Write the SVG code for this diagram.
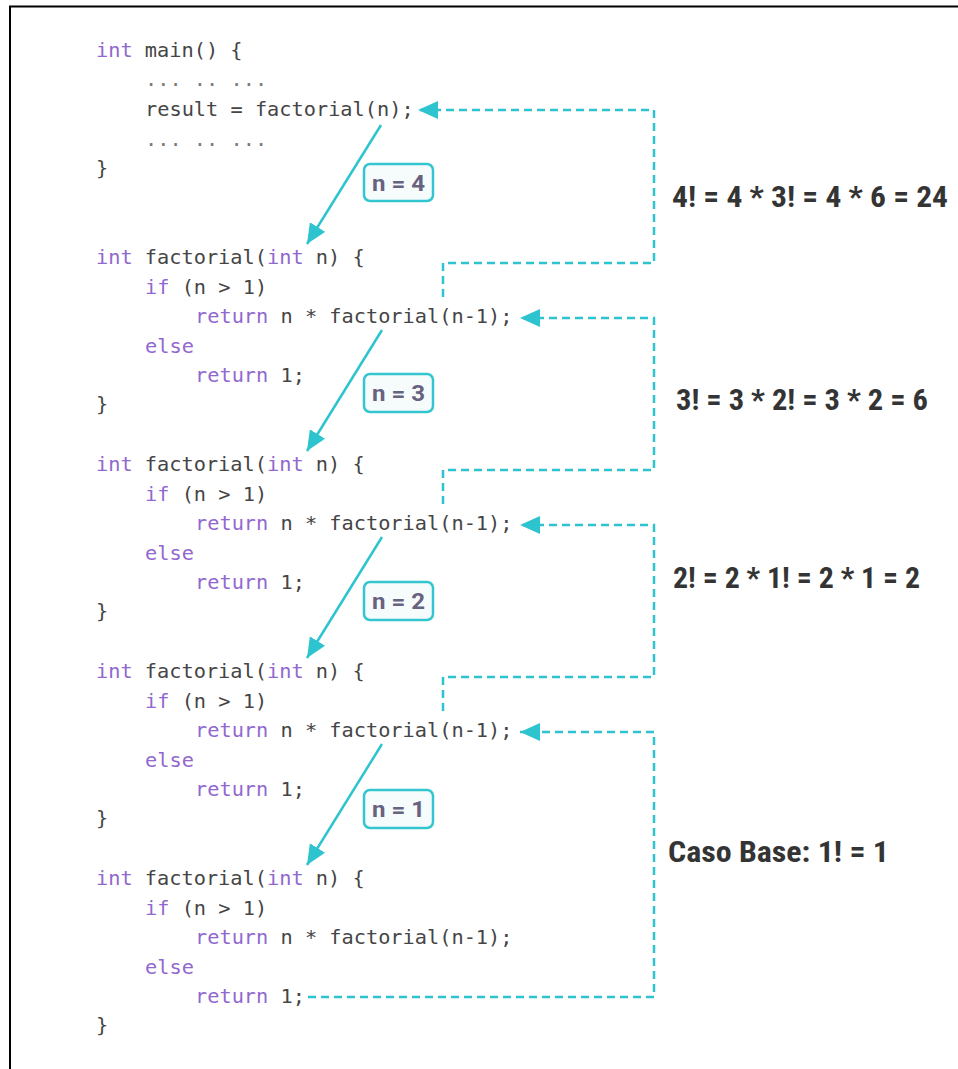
<svg xmlns="http://www.w3.org/2000/svg" width="958" height="1069" viewBox="0 0 958 1069">
  <style>
    .code { font-family: "DejaVu Sans Mono", "Liberation Mono", monospace; font-size: 20.3px; fill: #454545; }
    .kw { fill: #9168cf; }
    .dots { fill: #7a7a7a; }
    .box { fill: #f6fbfc; stroke: #33c6d0; stroke-width: 2.5; }
    .boxt { font-family: "Roboto", "Liberation Sans", sans-serif; font-size: 22px; font-weight: 700; fill: #67627f; }
    .lbl { font-family: "Roboto Condensed", "Liberation Sans Narrow", "Roboto", "Liberation Sans", sans-serif; font-size: 30px; font-weight: 700; fill: #343434; }
    .call { stroke: #2ec4cf; stroke-width: 2.5; fill: none; }
    .ret { stroke: #2ec4cf; stroke-width: 2.5; fill: none; stroke-dasharray: 8 5; }
  </style>
  <defs>
    <marker id="ah" markerUnits="userSpaceOnUse" markerWidth="22" markerHeight="20" refX="20" refY="9" orient="auto">
      <path d="M0,0 L20,9 L0,18 Z" fill="#2ec4cf"/>
    </marker>
  </defs>
  <rect x="0" y="0" width="958" height="1069" fill="#ffffff"/>
  <g id="frame">
    <line x1="9" y1="6.5" x2="958" y2="6.5" stroke="#000" stroke-width="2"/>
    <line x1="10" y1="6" x2="10" y2="1069" stroke="#000" stroke-width="2"/>
  </g>

  <g id="main" class="code">
    <text x="96" y="57"><tspan class="kw">int</tspan> main() {</text>
    <text x="145" y="86" class="dots">... .. ...</text>
    <text x="145" y="116">result = factorial(n);</text>
    <text x="145" y="146" class="dots">... .. ...</text>
    <text x="96" y="175">}</text>
  </g>

  <g id="factorial-1" class="code">
    <text x="96" y="264"><tspan class="kw">int</tspan> factorial(<tspan class="kw">int</tspan> n) {</text>
    <text x="145" y="294"><tspan class="kw">if</tspan> (n &gt; 1)</text>
    <text x="195" y="323"><tspan class="kw">return</tspan> n * factorial(n-1);</text>
    <text x="145" y="353" class="kw">else</text>
    <text x="195" y="382"><tspan class="kw">return</tspan> 1;</text>
    <text x="96" y="411">}</text>
  </g>
  <g id="factorial-2" class="code">
    <text x="96" y="471"><tspan class="kw">int</tspan> factorial(<tspan class="kw">int</tspan> n) {</text>
    <text x="145" y="501"><tspan class="kw">if</tspan> (n &gt; 1)</text>
    <text x="195" y="530"><tspan class="kw">return</tspan> n * factorial(n-1);</text>
    <text x="145" y="560" class="kw">else</text>
    <text x="195" y="589"><tspan class="kw">return</tspan> 1;</text>
    <text x="96" y="618">}</text>
  </g>
  <g id="factorial-3" class="code">
    <text x="96" y="678"><tspan class="kw">int</tspan> factorial(<tspan class="kw">int</tspan> n) {</text>
    <text x="145" y="708"><tspan class="kw">if</tspan> (n &gt; 1)</text>
    <text x="195" y="737"><tspan class="kw">return</tspan> n * factorial(n-1);</text>
    <text x="145" y="767" class="kw">else</text>
    <text x="195" y="796"><tspan class="kw">return</tspan> 1;</text>
    <text x="96" y="825">}</text>
  </g>
  <g id="factorial-4" class="code">
    <text x="96" y="885"><tspan class="kw">int</tspan> factorial(<tspan class="kw">int</tspan> n) {</text>
    <text x="145" y="915"><tspan class="kw">if</tspan> (n &gt; 1)</text>
    <text x="195" y="944"><tspan class="kw">return</tspan> n * factorial(n-1);</text>
    <text x="145" y="974" class="kw">else</text>
    <text x="195" y="1003"><tspan class="kw">return</tspan> 1;</text>
    <text x="96" y="1032">}</text>
  </g>

  <g id="connectors">
    <path class="call" d="M381,125 L307,244" marker-end="url(#ah)"/>
    <path class="call" d="M382,330 L307,451" marker-end="url(#ah)"/>
    <path class="call" d="M382,537 L307,658" marker-end="url(#ah)"/>
    <path class="call" d="M382,744 L307,865" marker-end="url(#ah)"/>
    <path class="ret" d="M443,297 V263 H654 V110 H418" marker-end="url(#ah)"/>
    <path class="ret" d="M443,504 V470 H654 V318 H520" marker-end="url(#ah)"/>
    <path class="ret" d="M443,711 V677 H654 V525 H520" marker-end="url(#ah)"/>
    <path class="ret" d="M308,997 H654 V732 H520" marker-end="url(#ah)"/>
  </g>

  <g id="box-n4">
    <rect class="box" x="364" y="164" width="69" height="37" rx="6"/>
    <text class="boxt" x="372" y="191" textLength="53" lengthAdjust="spacingAndGlyphs">n = 4</text>
  </g>
  <g id="box-n3">
    <rect class="box" x="364" y="374" width="69" height="38" rx="6"/>
    <text class="boxt" x="372" y="401" textLength="53" lengthAdjust="spacingAndGlyphs">n = 3</text>
  </g>
  <g id="box-n2">
    <rect class="box" x="364" y="582" width="69" height="38" rx="6"/>
    <text class="boxt" x="372" y="609" textLength="53" lengthAdjust="spacingAndGlyphs">n = 2</text>
  </g>
  <g id="box-n1">
    <rect class="box" x="364" y="790" width="69" height="38" rx="6"/>
    <text class="boxt" x="372" y="817" textLength="53" lengthAdjust="spacingAndGlyphs">n = 1</text>
  </g>

  <g id="label-4">
    <text class="lbl" x="672" y="207" textLength="276" lengthAdjust="spacingAndGlyphs">4! = 4 * 3! = 4 * 6 = 24</text>
  </g>
  <g id="label-3">
    <text class="lbl" x="676" y="410" textLength="252" lengthAdjust="spacingAndGlyphs">3! = 3 * 2! = 3 * 2 = 6</text>
  </g>
  <g id="label-2">
    <text class="lbl" x="673" y="588" textLength="247" lengthAdjust="spacingAndGlyphs">2! = 2 * 1! = 2 * 1 = 2</text>
  </g>
  <g id="label-base">
    <text class="lbl" x="668" y="862" textLength="221" lengthAdjust="spacingAndGlyphs">Caso Base: 1! = 1</text>
  </g>
</svg>
